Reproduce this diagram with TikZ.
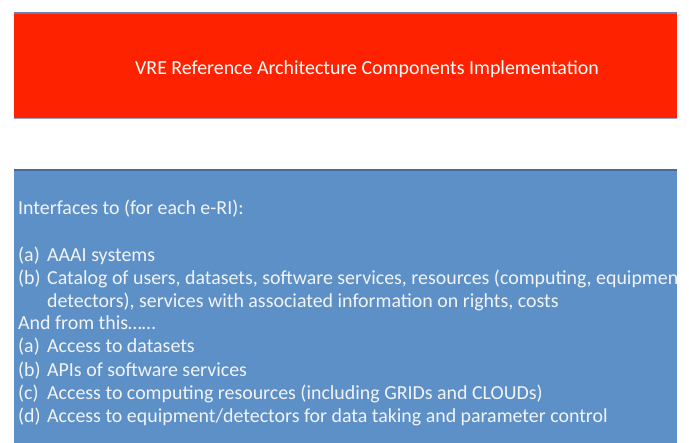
\documentclass[tikz,border=0pt]{standalone}
\usepackage{fontspec}
\setmainfont{Carlito}
\usepackage{xcolor}
\usetikzlibrary{positioning}

\definecolor{titlered}{RGB}{255,34,0}
\definecolor{bodyblue}{RGB}{93,144,198}
\definecolor{edgeblue}{RGB}{70,108,158}
\definecolor{edgegray}{RGB}{118,124,168}
\definecolor{textwhite}{RGB}{242,244,248}

\newcommand{\itemlbl}[1]{\makebox[29pt][l]{(#1)}}

\begin{document}
\begin{tikzpicture}[
    x=1pt, y=-1pt,
    banner/.style={fill=titlered, draw=none, inner sep=0pt, anchor=north west},
    panel/.style={fill=bodyblue, draw=none, inner sep=0pt, anchor=north west},
    line/.style={anchor=base west, inner sep=0pt, text=textwhite, font=\fontsize{19.9}{24}\selectfont},
]
\useasboundingbox (0,0) rectangle (689,443);

% Title banner
\node[banner, minimum width=663pt, minimum height=105pt] (title_box) at (14,13) {};
\draw[edgegray, line width=1.5pt] (title_box.north west) -- (title_box.north east);
\draw[edgegray!70, line width=1pt] (title_box.south west) -- (title_box.south east);
\node[anchor=base, inner sep=0pt, text=white, font=\fontsize{19.9}{24}\selectfont] (title) at (367,75)
    {VRE Reference Architecture Components Implementation};

% Body panel
\node[panel, minimum width=663pt, minimum height=275pt] (body_box) at (14,170) {};
\draw[edgeblue, line width=1.2pt] (body_box.north west) -- (body_box.north east);

\begin{scope}
\clip (body_box.north west) rectangle (body_box.south east);
\node[line] (intro) at (18,215) {Interfaces to (for each e-RI):};
\node[line] (aaai) at (18,262) {\itemlbl{a}AAAI systems};
\node[line] (catalog) at (18,285) {\itemlbl{b}Catalog of users, datasets, software services, resources (computing, equipment,};
\node[line] (detectors) at (47,308) {detectors), services with associated information on rights, costs};
\node[line] (fromthis) at (18,330) {And from this\dots\dots};
\node[line] (datasets) at (18,353) {\itemlbl{a}Access to datasets};
\node[line] (apis) at (18,377) {\itemlbl{b}APIs of software services};
\node[line] (computing) at (18,400) {\itemlbl{c}Access to computing resources (including GRIDs and CLOUDs)};
\node[line] (equipment) at (18,423) {\itemlbl{d}Access to equipment/detectors for data taking and parameter control};
\end{scope}

\end{tikzpicture}
\end{document}
